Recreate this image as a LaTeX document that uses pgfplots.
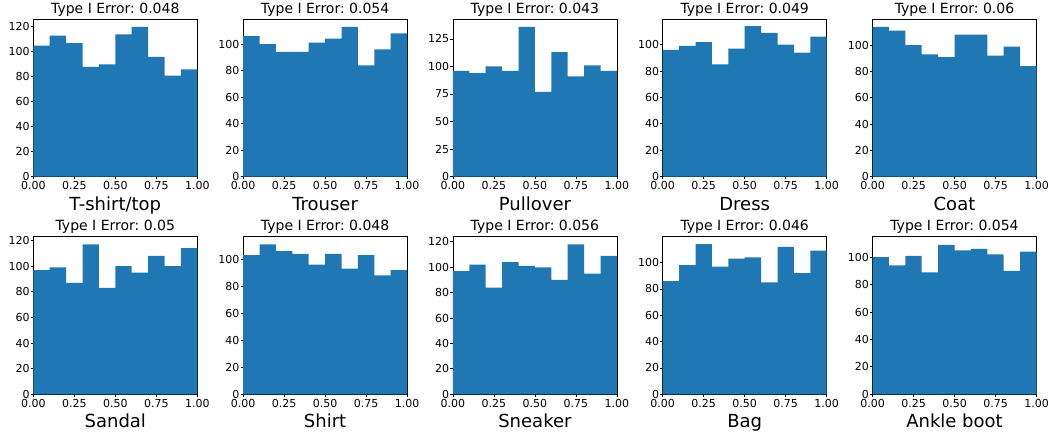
\documentclass[border=0pt]{standalone}
\usepackage{fontspec}
\setmainfont{DejaVu Sans}
\frenchspacing
\usepackage{pgfplots}
\pgfplotsset{compat=1.18}
\definecolor{mblue}{RGB}{31,119,180}
\pgfplotsset{
  every axis title shift=0pt,
  hist/.style={
    scale only axis, width=164pt, height=157.4pt,
    anchor=south west,
    xmin=0, xmax=1, ymin=0,
    xtick={0,0.25,0.5,0.75,1},
    xtick pos=lower, ytick pos=left,
    tick align=outside, major tick length=2.5pt,
    axis line style={line width=0.8pt},
    tick style={black, line width=0.8pt},
    /pgf/number format/assume math mode=true,
    tick label style={font=\fontsize{11}{11}\selectfont, inner sep=0pt},
    x tick label style={/pgf/number format/fixed, /pgf/number format/fixed zerofill, /pgf/number format/precision=2, anchor=north, yshift=-2pt},
    y tick label style={anchor=east, xshift=-1pt},
    title style={font=\fontsize{14}{14}\selectfont, at={(axis description cs:0.5,1)}, anchor=base, yshift=6pt},
    xlabel style={font=\fontsize{18}{18}\selectfont, at={(axis description cs:0.5,0)}, anchor=base, yshift=-33.7pt},
  },
  hbar/.style={ybar interval, fill=mblue, draw=none},
}
\begin{document}
\begin{tikzpicture}
\path[use as bounding box] (0,0) rectangle (1050pt,433pt);
% Row 1
\begin{axis}[hist, at={(33.3pt,256.3pt)}, ymax=126, ytick={0,20,40,60,80,100,120},
  title={Type I Error: 0.048}, xlabel={T-shirt/top}]
\addplot[hbar] coordinates {(0,105)(0.1,113)(0.2,107)(0.3,88)(0.4,90)(0.5,114)(0.6,120)(0.7,96)(0.8,81)(0.9,86)(1.0,86)};
\end{axis}
\begin{axis}[hist, at={(243.1pt,256.3pt)}, ymax=118.65, ytick={0,20,40,60,80,100},
  title={Type I Error: 0.054}, xlabel={Trouser}]
\addplot[hbar] coordinates {(0,106)(0.1,100)(0.2,94)(0.3,94)(0.4,101)(0.5,104)(0.6,113)(0.7,84)(0.8,96)(0.9,108)(1.0,108)};
\end{axis}
\begin{axis}[hist, at={(452.9pt,256.3pt)}, ymax=142.8, ytick={0,25,50,75,100,125},
  title={Type I Error: 0.043}, xlabel={Pullover}]
\addplot[hbar] coordinates {(0,96)(0.1,94)(0.2,100)(0.3,96)(0.4,136)(0.5,77)(0.6,113)(0.7,91)(0.8,101)(0.9,96)(1.0,96)};
\end{axis}
\begin{axis}[hist, at={(662.7pt,256.3pt)}, ymax=119.2, ytick={0,20,40,60,80,100},
  title={Type I Error: 0.049}, xlabel={Dress}]
\addplot[hbar] coordinates {(0,96)(0.1,99)(0.2,102)(0.3,85)(0.4,97)(0.5,114)(0.6,109)(0.7,100)(0.8,94)(0.9,106)(1.0,106)};
\end{axis}
\begin{axis}[hist, at={(872.5pt,256.3pt)}, ymax=119.7, ytick={0,20,40,60,80,100},
  title={Type I Error: 0.06}, xlabel={Coat}]
\addplot[hbar] coordinates {(0,114)(0.1,111)(0.2,100)(0.3,93)(0.4,91)(0.5,108)(0.6,108)(0.7,92)(0.8,99)(0.9,84)(1.0,84)};
\end{axis}
% Row 2
\begin{axis}[hist, at={(33.3pt,38.7pt)}, ymax=122.85, ytick={0,20,40,60,80,100,120},
  title={Type I Error: 0.05}, xlabel={Sandal}]
\addplot[hbar] coordinates {(0,97)(0.1,99)(0.2,87)(0.3,117)(0.4,83)(0.5,100)(0.6,95)(0.7,108)(0.8,100)(0.9,114)(1.0,114)};
\end{axis}
\begin{axis}[hist, at={(243.1pt,38.7pt)}, ymax=116.55, ytick={0,20,40,60,80,100},
  title={Type I Error: 0.048}, xlabel={Shirt}]
\addplot[hbar] coordinates {(0,103)(0.1,111)(0.2,106)(0.3,104)(0.4,96)(0.5,104)(0.6,93)(0.7,103)(0.8,88)(0.9,92)(1.0,92)};
\end{axis}
\begin{axis}[hist, at={(452.9pt,38.7pt)}, ymax=123.9, ytick={0,20,40,60,80,100,120},
  title={Type I Error: 0.056}, xlabel={Sneaker}]
\addplot[hbar] coordinates {(0,97)(0.1,102)(0.2,84)(0.3,104)(0.4,101)(0.5,100)(0.6,90)(0.7,118)(0.8,95)(0.9,109)(1.0,109)};
\end{axis}
\begin{axis}[hist, at={(662.7pt,38.7pt)}, ymax=119.5, ytick={0,20,40,60,80,100},
  title={Type I Error: 0.046}, xlabel={Bag}]
\addplot[hbar] coordinates {(0,86)(0.1,98)(0.2,114)(0.3,97)(0.4,103)(0.5,104)(0.6,85)(0.7,112)(0.8,92)(0.9,109)(1.0,109)};
\end{axis}
\begin{axis}[hist, at={(872.5pt,38.7pt)}, ymax=114.8, ytick={0,20,40,60,80,100},
  title={Type I Error: 0.054}, xlabel={Ankle boot}]
\addplot[hbar] coordinates {(0,100)(0.1,94)(0.2,101)(0.3,89)(0.4,109)(0.5,105)(0.6,106)(0.7,102)(0.8,90)(0.9,104)(1.0,104)};
\end{axis}
\end{tikzpicture}
\end{document}
